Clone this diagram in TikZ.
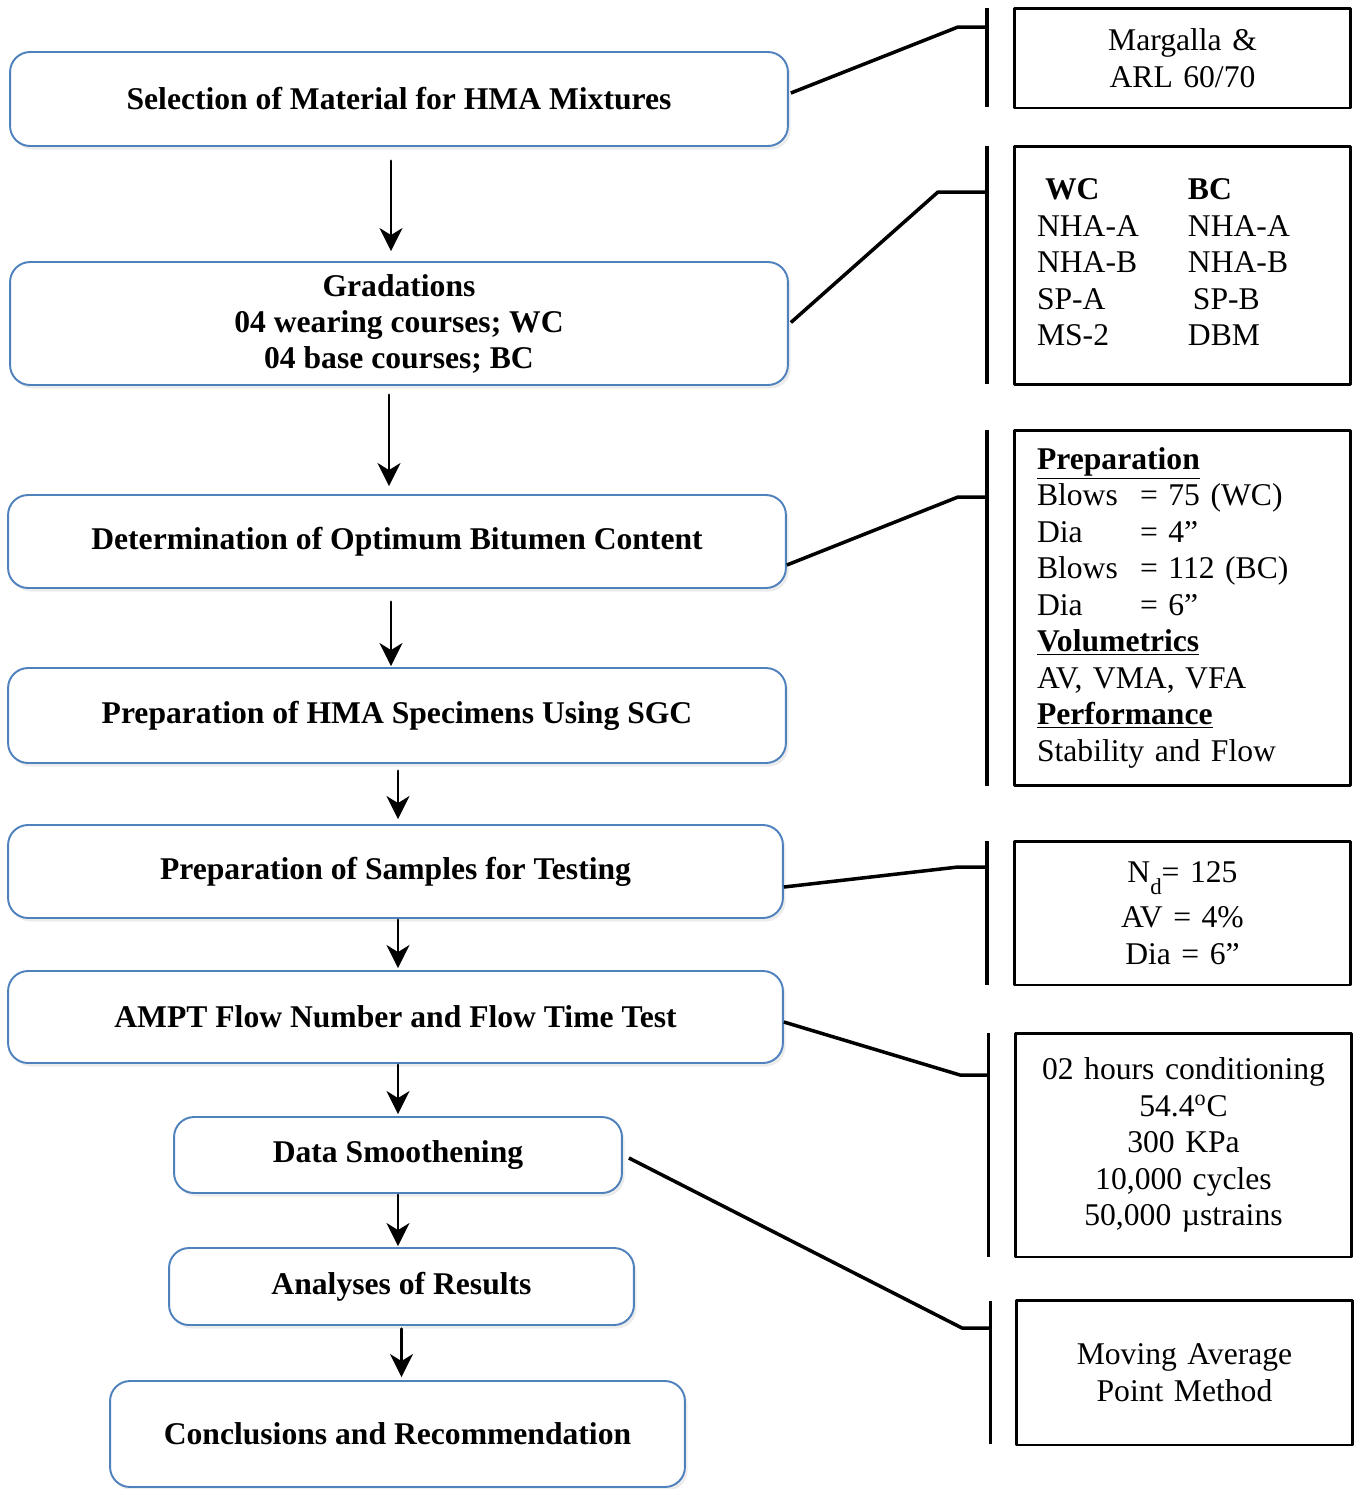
\documentclass[tikz,border=0pt]{standalone}
\usepackage{fontspec}
\setmainfont{Liberation Serif}
\usetikzlibrary{arrows.meta,shadows,calc}
\definecolor{stageblue}{RGB}{79,129,189}

\begin{document}
\begin{tikzpicture}[line cap=round,line join=round,x=0.02cm,y=-0.02cm,
	>={Stealth[length=0.46cm,width=0.46cm,inset=0.14cm]},
	stage/.style={draw=stageblue,line width=1.1pt,rounded corners=0.4cm,fill=white,
		drop shadow={opacity=0.15,shadow xshift=1.5pt,shadow yshift=-2pt},
		inner sep=0pt,align=center,font=\fontsize{18}{20.5}\selectfont\bfseries},
	info/.style={draw,line width=1.7pt,inner xsep=0.46cm,inner ysep=0pt,text width=5.82cm,
		font=\fontsize{18}{20.75}\selectfont},
	bar/.style={fill=black,inner sep=0pt,minimum width=0.07cm},
	link/.style={line width=2pt,line cap=butt},
	flow/.style={->,line width=1.7pt}]
			\useasboundingbox (0,0) rectangle (1356,1489);
			% stages
			\node[stage,minimum width=15.56cm,minimum height=1.88cm] (b1) at (399,99) {Selection of Material for HMA Mixtures};
			\node[stage,minimum width=15.56cm,minimum height=2.46cm] (b2) at (399,323.5) {Gradations\\04 wearing courses; WC\\04 base courses; BC};
			\node[stage,minimum width=15.56cm,minimum height=1.86cm] (b3) at (397,541.5) {Determination of Optimum Bitumen Content};
			\node[stage,minimum width=15.56cm,minimum height=1.9cm] (b4) at (397,715.5) {Preparation of HMA Specimens Using SGC};
			\node[stage,minimum width=15.5cm,minimum height=1.86cm] (b5) at (395.5,871.5) {Preparation of Samples for Testing};
			\node[stage,minimum width=15.5cm,minimum height=1.84cm] (b6) at (395.5,1017) {AMPT Flow Number and Flow Time Test};
			\node[stage,minimum width=8.96cm,minimum height=1.52cm] (b7) at (398,1155) {Data Smoothening};
			\node[stage,minimum width=9.3cm,minimum height=1.54cm] (b8) at (401.5,1286.5) {Analyses of Results};
			\node[stage,minimum width=11.5cm,minimum height=2.12cm] (b9) at (397.5,1434) {Conclusions and Recommendation};
			\draw[flow] ($(b1.south)+(-8,14)$) -- ($(b1.south |- b2.north)+(-8,-10)$);
			\draw[flow] ($(b2.south)+(-10,9)$) -- ($(b2.south |- b3.north)+(-10,-8)$);
			\draw[flow] ($(b3.south)+(-6,13)$) -- ($(b3.south |- b4.north)+(-6,-1)$);
			\draw[flow] ($(b4.south)+(1,7)$) -- ($(b4.south |- b5.north)+(1,-5)$);
			\draw[flow] ($(b5.south)+(2.5,1)$) -- ($(b5.south |- b6.north)+(2.5,-2)$);
			\draw[flow] ($(b6.south)+(2.5,1)$) -- ($(b6.south |- b7.north)+(2.5,-2)$);
			\draw[flow] ($(b7.south)+(0,1)$) -- ($(b7.south |- b8.north)+(0,-1)$);
			\draw[flow] ($(b8.south)+(0,3)$) -- ($(b8.south |- b9.north)+(0,-3)$);
			% details
			\node[info,align=center,minimum height=2cm] (r1) at (1182.5,58) {Margalla \&\\ARL 60/70};
			\node[info,align=left,minimum height=4.78cm] (r2) at (1182.5,265.5) {\begin{tabular}{@{}p{3.02cm}@{}l@{}}
					\hspace{0.16cm}\textbf{WC} & \textbf{BC}\\
					NHA-A & NHA-A\\
					NHA-B & NHA-B\\
					SP-A & \hspace{0.1cm}SP-B\\
					MS-2 & DBM
				\end{tabular}};
			\node[info,align=left,minimum height=7.12cm] (r3) at (1182.5,608) {\begin{tabular}{@{}p{2.06cm}@{}l@{}}
					\multicolumn{2}{@{}l@{}}{\underline{\textbf{Preparation}}}\\
					Blows & = 75 (WC)\\
					Dia & = 4”\\
					Blows & = 112 (BC)\\
					Dia & = 6”\\
					\multicolumn{2}{@{}l@{}}{\underline{\textbf{Volumetrics}}}\\
					\multicolumn{2}{@{}l@{}}{AV, VMA, VFA}\\
					\multicolumn{2}{@{}l@{}}{\underline{\textbf{Performance}}}\\
					\multicolumn{2}{@{}l@{}}{Stability and Flow}
				\end{tabular}};
			\node[info,align=center,minimum height=2.88cm] (r4) at (1182.5,913) {N\raisebox{-7pt}{\fontsize{13}{13}\selectfont d}= 125\\[0.17cm]AV = 4\%\\Dia = 6”};
			\node[info,align=center,minimum height=4.48cm] (r5) at (1183.5,1145) {02 hours conditioning\\54.4\textsuperscript{o}C\\300 KPa\\10,000 cycles\\50,000 µstrains};
			\node[info,align=center,minimum height=2.9cm] (r6) at (1184.5,1372.5) {Moving Average\\Point Method};
			% brackets
			\node[bar,minimum height=1.98cm] (v1) at (987,57.5) {};
			\node[bar,minimum height=4.76cm] (v2) at (987,265) {};
			\node[bar,minimum height=7.12cm] (v3) at (987,608) {};
			\node[bar,minimum height=2.88cm] (v4) at (987,913) {};
			\node[bar,minimum height=4.48cm] (v5) at (988.5,1145) {};
			\node[bar,minimum height=2.86cm] (v6) at (990.5,1372.5) {};
			\coordinate (k1) at (958,27);
			\coordinate (k2) at (938,192);
			\coordinate (k3) at (958,497);
			\coordinate (k4) at (958,867);
			\coordinate (k5) at (960,1075);
			\coordinate (k6) at (962,1328);
			\draw[link] ($(b1.east)+(2,-6)$) -- (k1) -- (k1 -| v1);
			\draw[link] ($(b2.east)+(2,-1)$) -- (k2) -- (k2 -| v2);
			\draw[link] ($(b3.east)+(0,23.5)$) -- (k3) -- (k3 -| v3);
			\draw[link] ($(b5.east)+(0,15.5)$) -- (k4) -- (k4 -| v4);
			\draw[link] ($(b6.east)+(0,5)$) -- (k5) -- (k5 -| v5);
			\draw[link] ($(b7.east)+(6,3)$) -- (k6) -- (k6 -| v6);
		\end{tikzpicture}
\end{document}
